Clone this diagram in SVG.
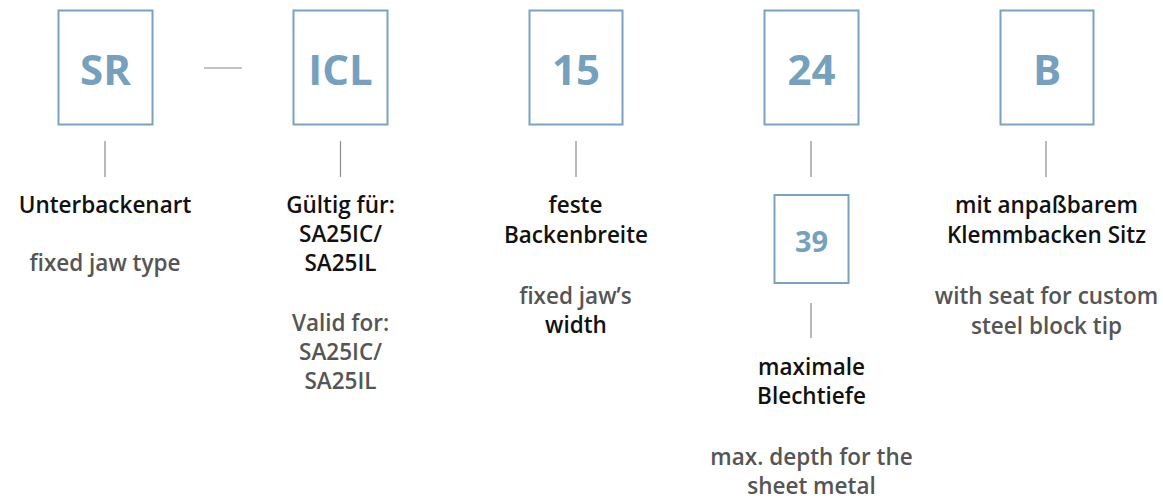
<svg xmlns="http://www.w3.org/2000/svg" width="1163" height="499" viewBox="0 0 1163 499">
<style>
.box{fill:#fff;stroke:#7aa3c1;stroke-width:2}
.code{font-family:"Open Sans","Noto Sans",sans-serif;font-weight:700;fill:#75a0be;text-anchor:middle}
.big{font-size:42px}
.small{font-size:29px}
.de{font-family:"Open Sans","Noto Sans",sans-serif;font-weight:600;font-size:22.5px;fill:#111;text-anchor:middle}
.en{font-family:"Open Sans","Noto Sans",sans-serif;font-weight:600;font-size:22.5px;fill:#555;text-anchor:middle}
.ln{stroke:#8a8a8a;stroke-width:1.2;fill:none}
</style>
<rect width="1163" height="499" fill="#fff"/>
<g id="connectors">
<line class="ln" x1="204" y1="68" x2="242" y2="68"/>
<line class="ln" x1="105" y1="141" x2="105" y2="177"/>
<line class="ln" x1="340.5" y1="141" x2="340.5" y2="177"/>
<line class="ln" x1="576" y1="141" x2="576" y2="177"/>
<line class="ln" x1="811" y1="141" x2="811" y2="177"/>
<line class="ln" x1="1046" y1="141" x2="1046" y2="177"/>
<line class="ln" x1="811" y1="303" x2="811" y2="338"/>
</g>
<g id="node-sr">
<rect class="box" x="58.5" y="10.5" width="94" height="114"/>
<text class="code big" x="105.5" y="85">SR</text>
<text class="de" x="105" y="213">Unterbackenart</text>
<text class="en" x="105" y="271">fixed jaw type</text>
</g>
<g id="node-icl">
<rect class="box" x="293.5" y="10.5" width="94" height="114"/>
<text class="code big" x="340.5" y="85">ICL</text>
<text class="de" x="340.5" y="213">Gültig für:</text>
<text class="de" x="340.5" y="242">SA25IC/</text>
<text class="de" x="340.5" y="271">SA25IL</text>
<text class="en" x="340.5" y="331">Valid for:</text>
<text class="en" x="340.5" y="360">SA25IC/</text>
<text class="en" x="340.5" y="389">SA25IL</text>
</g>
<g id="node-15">
<rect class="box" x="529.5" y="10.5" width="93" height="114"/>
<text class="code big" x="576" y="85">15</text>
<text class="de" x="575.5" y="213">feste</text>
<text class="de" x="576" y="243">Backenbreite</text>
<text class="en" x="575.5" y="304">fixed jaw’s</text>
<text class="de" x="576" y="333">width</text>
</g>
<g id="node-24">
<rect class="box" x="764.5" y="10.5" width="94" height="114"/>
<text class="code big" x="811.5" y="85">24</text>
</g>
<g id="node-39">
<rect class="box" x="774.5" y="195" width="74" height="88"/>
<text class="code small" x="811.5" y="252">39</text>
<text class="de" x="811.5" y="375">maximale</text>
<text class="de" x="811.5" y="404">Blechtiefe</text>
<text class="en" x="811.5" y="465">max. depth for the</text>
<text class="en" x="811.5" y="494">sheet metal</text>
</g>
<g id="node-b">
<rect class="box" x="1000.5" y="10.5" width="93" height="114"/>
<text class="code big" x="1047" y="85">B</text>
<text class="de" x="1046.5" y="213">mit anpaßbarem</text>
<text class="de" x="1046.5" y="243">Klemmbacken Sitz</text>
<text class="en" x="1046.5" y="304">with seat for custom</text>
<text class="en" x="1046.5" y="334">steel block tip</text>
</g>
</svg>
